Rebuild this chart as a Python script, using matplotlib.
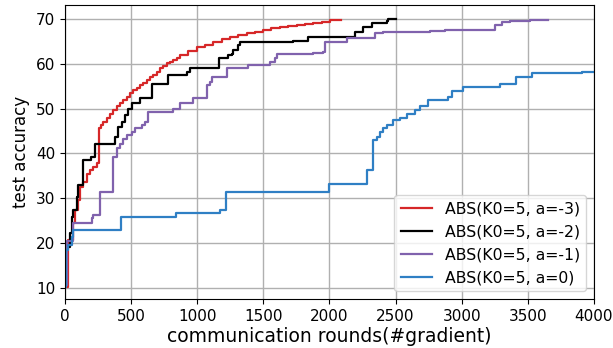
import matplotlib
matplotlib.use("Agg")
import matplotlib.pyplot as plt

# a = -3 (red)
red_x = [15, 25, 63, 76, 101, 113, 140, 164, 189, 214, 240, 257, 275, 290, 315, 340, 365, 390, 416, 441,
         466, 491, 516, 541, 567, 592, 618, 643, 668, 693, 718, 743, 769, 794, 819, 845, 870, 930, 996, 1060,
         1121, 1185, 1248, 1310, 1374, 1440, 1499, 1560, 1626, 1690, 1752, 1815, 1877, 1940, 2004, 2090]
red_y = [10.2, 20.6, 24.4, 27.3, 29.6, 32.5, 33.5, 35.5, 36.3, 37.0, 37.8, 45.6, 46.3, 47.0, 47.8, 48.7, 49.7, 50.5, 51.2, 51.9,
         52.6, 53.4, 54.1, 54.6, 55.2, 55.8, 56.4, 57.0, 57.5, 58.2, 59.0, 59.5, 60.1, 60.4, 60.8, 61.4, 61.9, 62.9, 63.8, 64.3,
         64.9, 65.5, 66.0, 66.4, 66.8, 67.2, 67.5, 67.9, 68.3, 68.5, 68.6, 68.9, 69.15, 69.4, 69.75, 69.8]

# a = -2 (black)
black_x = [12, 38, 50, 63, 88, 101, 139, 197, 227, 378, 403, 429, 454, 479, 504, 567, 655, 781, 920, 945,
           1167, 1235, 1260, 1273, 1310, 1323, 1726, 1840, 2193, 2256, 2319, 2432, 2445, 2500]
black_y = [19.0, 22.1, 25.8, 27.3, 30.3, 32.9, 38.5, 39.2, 42.2, 43.7, 45.9, 47.0, 48.5, 50.0, 51.2, 52.3, 55.6, 57.5, 58.2, 59.0,
           61.3, 61.9, 62.3, 63.1, 64.2, 64.9, 65.2, 65.9, 67.1, 68.3, 69.2, 69.6, 70.0, 70.0]

# a = -1 (purple)
purple_x = [5, 13, 63, 202, 214, 265, 365, 391, 416, 441, 466, 504, 529, 580, 605, 630, 819, 870, 970, 1071,
            1096, 1109, 1223, 1386, 1550, 1588, 1600, 1877, 1953, 1966, 2130, 2344, 2407, 2760, 2873, 3251, 3302, 3365, 3516, 3654]
purple_y = [10.5, 20.5, 24.4, 25.5, 26.2, 31.4, 39.2, 41.1, 42.2, 43.3, 44.1, 44.8, 45.6, 46.3, 47.0, 49.3, 50.0, 51.2, 52.3, 55.2,
            56.0, 57.1, 59.0, 59.7, 60.4, 61.2, 62.1, 62.4, 62.7, 64.9, 65.7, 66.9, 67.1, 67.3, 67.6, 68.6, 69.3, 69.6, 69.9, 69.9]

# a = 0 (blue)
blue_x = [3, 8, 25, 50, 63, 421, 839, 1172, 1215, 1998, 2281, 2331, 2357, 2382, 2407, 2432, 2483, 2533, 2583, 2646,
          2684, 2747, 2898, 2924, 3012, 3289, 3410, 3529, 3907, 3995]
blue_y = [10.2, 18.4, 19.5, 21.4, 22.9, 25.85, 26.7, 27.3, 31.4, 33.1, 36.3, 43.0, 43.7, 44.8, 45.6, 46.3, 47.4, 48.0, 48.9, 49.7,
          50.6, 51.9, 52.6, 54.0, 54.9, 55.5, 57.1, 58.0, 58.2, 58.2]

labels = ["ABS(K0=5, a=-3)", "ABS(K0=5, a=-2)", "ABS(K0=5, a=-1)", "ABS(K0=5, a=0)"]
colors = ["#d62728", "#000000", "#8062ad", "#2f7fc4"]
xticks = [0, 500, 1000, 1500, 2000, 2500, 3000, 3500, 4000]
yticks = [10, 20, 30, 40, 50, 60, 70]

fig = plt.figure(figsize=(6.13, 3.48), dpi=100)
ax = fig.add_axes([0.106, 0.14, 0.863, 0.845])

series = [(red_x, red_y), (black_x, black_y), (purple_x, purple_y), (blue_x, blue_y)]
for (xs, ys), lab, c in zip(series, labels, colors):
    ax.plot(xs, ys, drawstyle="steps-post", color=c, lw=1.6, label=lab)

ax.set_xlim(0, 4000)
ax.set_ylim(7.4, 73.1)
ax.set_xticks(xticks)
ax.set_yticks(yticks)
ax.tick_params(labelsize=11)
ax.grid(True, color="#b0b0b0", lw=1.0)
ax.set_axisbelow(True)
ax.set_xlabel("communication rounds(#gradient)", fontsize=13.5, labelpad=2)
ax.set_ylabel("test accuracy", fontsize=12, labelpad=4)
ax.legend(loc="lower right", fontsize=11.3, handlelength=2.0)

fig.savefig("out.png", dpi=100)
